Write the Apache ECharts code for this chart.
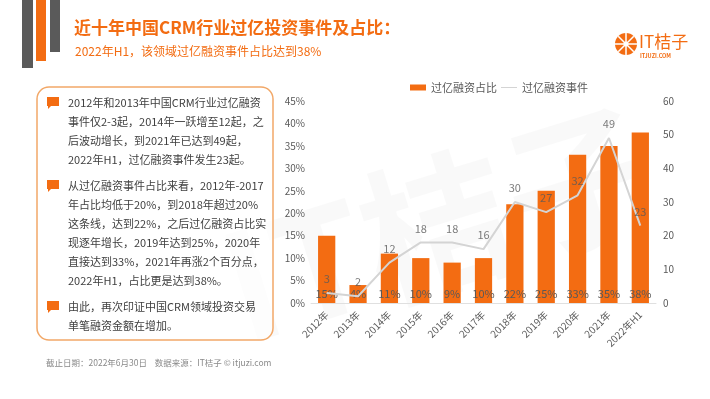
<!DOCTYPE html>
<html>
<head>
<meta charset="utf-8">
<script src="https://cdn.jsdelivr.net/npm/echarts@6/dist/echarts.min.js"></script>
<style>
  html, body { margin: 0; padding: 0; background: #fff; }
  #chart { width: 710px; height: 399px; }
</style>
</head>
<body>
<div id="chart"></div>
<script>
// --- 數據 ---
const years = ['2012年', '2013年', '2014年', '2015年', '2016年', '2017年', '2018年', '2019年', '2020年', '2021年', '2022年H1']
const shareValues = [15, 4, 11, 10, 9, 10, 22, 25, 33, 35, 38]   // 過億融資占比 (%)
const eventValues = [3, 2, 12, 18, 18, 16, 30, 27, 32, 49, 23]   // 過億融資事件 (起)

const ORANGE = '#f36c12'
const FONT = '"Noto Sans CJK SC", "Noto Sans", sans-serif'

// 左側說明文字
const notes = [
  { y: 96, text: '2012年和2013年中国CRM行业过亿融资\n事件仅2-3起，2014年一跃增至12起，之\n后波动增长，到2021年已达到49起，\n2022年H1，过亿融资事件发生23起。' },
  { y: 179, text: '从过亿融资事件占比来看，2012年-2017\n年占比均低于20%，到2018年超过20%\n这条线，达到22%，之后过亿融资占比实\n现逐年增长，2019年达到25%，2020年\n直接达到33%，2021年再涨2个百分点，\n2022年H1，占比更是达到38%。' },
  { y: 300, text: '由此，再次印证中国CRM领域投资交易\n单笔融资金额在增加。' },
]

const bulletIcon = (y) => ({
  type: 'group',
  children: [
    { type: 'rect', shape: { x: 47, y: y + 1, width: 12, height: 9 }, style: { fill: ORANGE } },
    { type: 'polygon', shape: { points: [[48, y + 9], [52, y + 9], [48, y + 13]] }, style: { fill: ORANGE } },
  ],
})

const graphics = [
  // 水印
  {
    type: 'text', x: 440, y: 225, rotation: 0.3, z: -10, silent: true,
    style: { text: 'IT桔子', font: 'bold 150px ' + FONT, fill: 'rgba(0,0,0,0.025)', align: 'center', verticalAlign: 'middle' },
  },
  // 左上裝飾條
  { type: 'rect', shape: { x: 22, y: 0, width: 11, height: 68 }, style: { fill: '#5a5a5a' } },
  { type: 'rect', shape: { x: 36, y: 0, width: 10, height: 61 }, style: { fill: ORANGE } },
  { type: 'rect', shape: { x: 50, y: 0, width: 10, height: 52 }, style: { fill: '#5a5a5a' } },
  // 標題
  { type: 'text', x: 74, y: 28, style: { text: '近十年中国CRM行业过亿投资事件及占比：', font: 'bold 17px ' + FONT, fill: ORANGE, verticalAlign: 'middle' } },
  { type: 'text', x: 75, y: 51, style: { text: '2022年H1，该领域过亿融资事件占比达到38%', font: '12px ' + FONT, fill: ORANGE, verticalAlign: 'middle' } },
  // Logo
  { type: 'circle', shape: { cx: 626, cy: 44, r: 11 }, style: { fill: ORANGE } },
  ...[0, 1, 2, 3].map((i) => ({
    type: 'line',
    shape: {
      x1: 626 + 11 * Math.cos((i * Math.PI) / 4), y1: 44 + 11 * Math.sin((i * Math.PI) / 4),
      x2: 626 - 11 * Math.cos((i * Math.PI) / 4), y2: 44 - 11 * Math.sin((i * Math.PI) / 4),
    },
    style: { stroke: '#fff', lineWidth: 1.5 },
  })),
  { type: 'circle', shape: { cx: 626, cy: 44, r: 2.5 }, style: { fill: '#fff' } },
  { type: 'text', x: 639, y: 42, style: { text: 'IT桔子', font: '17px ' + FONT, fill: ORANGE, verticalAlign: 'middle' } },
  { type: 'text', x: 640, y: 56, style: { text: 'ITJUZI.COM', font: 'bold 5.5px ' + FONT, fill: ORANGE, verticalAlign: 'middle' } },
  // 左側文字框
  { type: 'rect', shape: { x: 37, y: 87, width: 236, height: 253, r: 12 }, style: { fill: 'rgba(255,255,255,0.6)', stroke: '#f2a868', lineWidth: 1.5 } },
  ...notes.map((n) => bulletIcon(n.y)),
  ...notes.map((n) => ({
    type: 'text', x: 68, y: n.y - 3,
    style: { text: n.text, font: '11px ' + FONT, fill: '#404040', lineHeight: 19 },
  })),
  // 底部註釋
  { type: 'text', x: 46, y: 363, style: { text: '截止日期：2022年6月30日    数据来源：IT桔子 © itjuzi.com', font: '8.5px ' + FONT, fill: '#8a8a8a', verticalAlign: 'middle' } },
]

const chart = echarts.init(document.getElementById('chart'))

const options = {
  textStyle: { fontFamily: FONT },
  animation: false,
  graphic: graphics,
  legend: {
    left: 405, top: 77,
    itemWidth: 16, itemHeight: 6, itemGap: 4,
    textStyle: { color: '#595959', fontSize: 11 },
    data: [
      { name: '过亿融资占比', icon: 'rect' },
      // 只畫一條細線作圖例
      { name: '过亿融资事件', icon: 'path://M0,0 L0,0 Z M0,2.5 L16,2.5 L16,3.5 L0,3.5 Z M16,6 L16,6 Z' },
    ],
  },
  grid: { left: 311, right: 54, top: 101, bottom: 96 },
  xAxis: {
    type: 'category',
    data: years,
    axisLine: { lineStyle: { color: '#e0e0e0' } },
    axisTick: { show: false },
    axisLabel: { rotate: 45, interval: 0, color: '#595959', fontSize: 10, margin: 10 },
  },
  yAxis: [
    {
      type: 'value', min: 0, max: 45, interval: 5,
      axisLabel: { formatter: '{value}%', color: '#595959', fontSize: 10, margin: 6 },
      splitLine: { show: false },
      axisLine: { show: false },
    },
    {
      type: 'value', min: 0, max: 60, interval: 10,
      axisLabel: { color: '#595959', fontSize: 10, margin: 7 },
      splitLine: { show: false },
      axisLine: { show: false },
    },
  ],
  series: [
    {
      name: '过亿融资占比',
      type: 'bar',
      yAxisIndex: 0,
      data: shareValues,
      barWidth: '55%',
      itemStyle: { color: ORANGE },
      label: { show: true, position: 'insideBottom', distance: 4, formatter: '{c}%', color: '#595959', fontSize: 11 },
    },
    {
      name: '过亿融资事件',
      type: 'line',
      yAxisIndex: 1,
      data: eventValues,
      symbol: 'none',
      lineStyle: { color: '#d4d4d4', width: 2 },
      itemStyle: { color: '#d4d4d4' },
      z: 3,
    },
    {
      // 折線數值標籤
      name: '事件标签',
      type: 'scatter',
      yAxisIndex: 1,
      data: eventValues,
      symbolSize: 1,
      itemStyle: { color: 'rgba(0,0,0,0)' },
      label: { show: true, position: 'top', distance: 8, color: '#595959', fontSize: 11 },
      z: 4,
    },
  ],
}

chart.setOption(options)
</script>
</body>
</html>
